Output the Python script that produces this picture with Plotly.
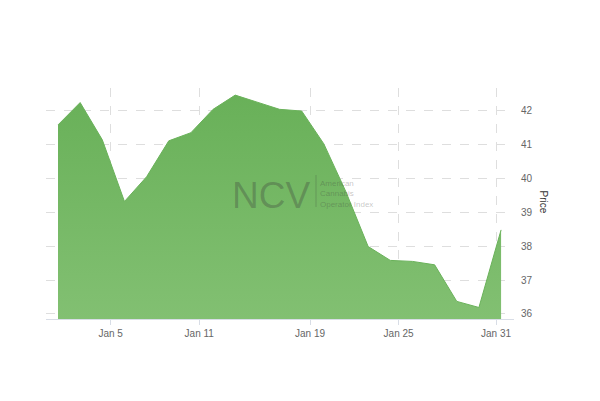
import plotly.graph_objects as go

# Trading days (Jan 3 – Feb 1, 2018) and closing prices
dates = ["2018-01-03", "2018-01-04", "2018-01-05", "2018-01-08", "2018-01-09",
         "2018-01-10", "2018-01-11", "2018-01-12", "2018-01-16", "2018-01-17",
         "2018-01-18", "2018-01-19", "2018-01-22", "2018-01-23", "2018-01-24",
         "2018-01-25", "2018-01-26", "2018-01-29", "2018-01-30", "2018-01-31",
         "2018-02-01"]
prices = [41.58, 42.24, 41.14, 39.32, 40.05, 41.11, 41.35, 42.04, 42.46, 42.24,
          42.04, 41.99, 41.02, 39.60, 37.99, 37.58, 37.55, 37.45, 36.37, 36.19,
          38.48]

x_tick_vals = ["2018-01-05 09:00", "2018-01-11 09:00", "2018-01-19 09:00",
               "2018-01-25 09:00", "2018-01-31 18:30"]
x_tick_text = ["Jan 5", "Jan 11", "Jan 19", "Jan 25", "Jan 31"]
y_tick_vals = [36, 37, 38, 39, 40, 41, 42]

fig = go.Figure()
fig.add_trace(go.Scatter(
    x=dates, y=prices, mode="lines",
    line=dict(color="rgb(106,178,90)", width=1),
    fill="tozeroy",
    fillgradient=dict(type="vertical",
                      colorscale=[[0, "rgb(130,192,114)"], [1, "rgb(104,176,88)"]],
                      start=35.85, stop=42.6),
    hoverinfo="x+y", showlegend=False,
))

fig.update_layout(
    width=600, height=401,
    margin=dict(l=46, r=86, t=88, b=82),
    paper_bgcolor="white", plot_bgcolor="white",
    font=dict(family="Liberation Sans, Arial, sans-serif", size=10, color="#666666"),
    xaxis=dict(
        type="date",
        range=["2018-01-02 11:00", "2018-02-01 14:00"],
        rangebreaks=[dict(bounds=["sat", "mon"]), dict(values=["2018-01-15"])],
        tickvals=x_tick_vals, ticktext=x_tick_text,
        showgrid=True, gridcolor="#dedede", griddash="dash", gridwidth=1,
        showline=True, linecolor="#d8dde6", linewidth=1,
        ticks="outside", ticklen=5, tickcolor="#d8dde6",
        tickfont=dict(size=10, color="#666666"),
        zeroline=False,
    ),
    yaxis=dict(
        side="right",
        range=[35.85, 42.67],
        tickvals=y_tick_vals,
        showgrid=True, gridcolor="#dedede", griddash="dash", gridwidth=1,
        showline=False, zeroline=False, ticks="",
        ticklabelstandoff=6,
        tickfont=dict(size=10, color="#666666"),
    ),
)

# Axis title (reads top-to-bottom)
fig.add_annotation(xref="paper", yref="paper", x=(551 - 46) / 468, y=(319 - 202) / 231,
                   text="Price", textangle=90, showarrow=False,
                   font=dict(size=10, color="#333333"))

# Watermark
fig.add_annotation(xref="paper", yref="paper", x=(271 - 46) / 468, y=(319 - 195) / 231,
                   text="NCV", showarrow=False,
                   font=dict(size=37, color="rgba(60,60,60,0.32)"))
fig.add_shape(type="line", xref="paper", yref="paper",
              x0=(316 - 46) / 468, x1=(316 - 46) / 468,
              y0=(319 - 207) / 231, y1=(319 - 175) / 231,
              line=dict(color="rgba(60,60,60,0.25)", width=1))
fig.add_annotation(xref="paper", yref="paper", x=(318 - 46) / 468, y=(319 - 194) / 231,
                   xanchor="left", align="left",
                   text="American<br>Cannabis<br>Operator Index", showarrow=False,
                   font=dict(size=8, color="rgba(60,60,60,0.3)"))

fig.write_html("out.html",
               config={"displayModeBar": False},
               post_script="document.body.style.margin='0';document.body.style.overflow='hidden';")
